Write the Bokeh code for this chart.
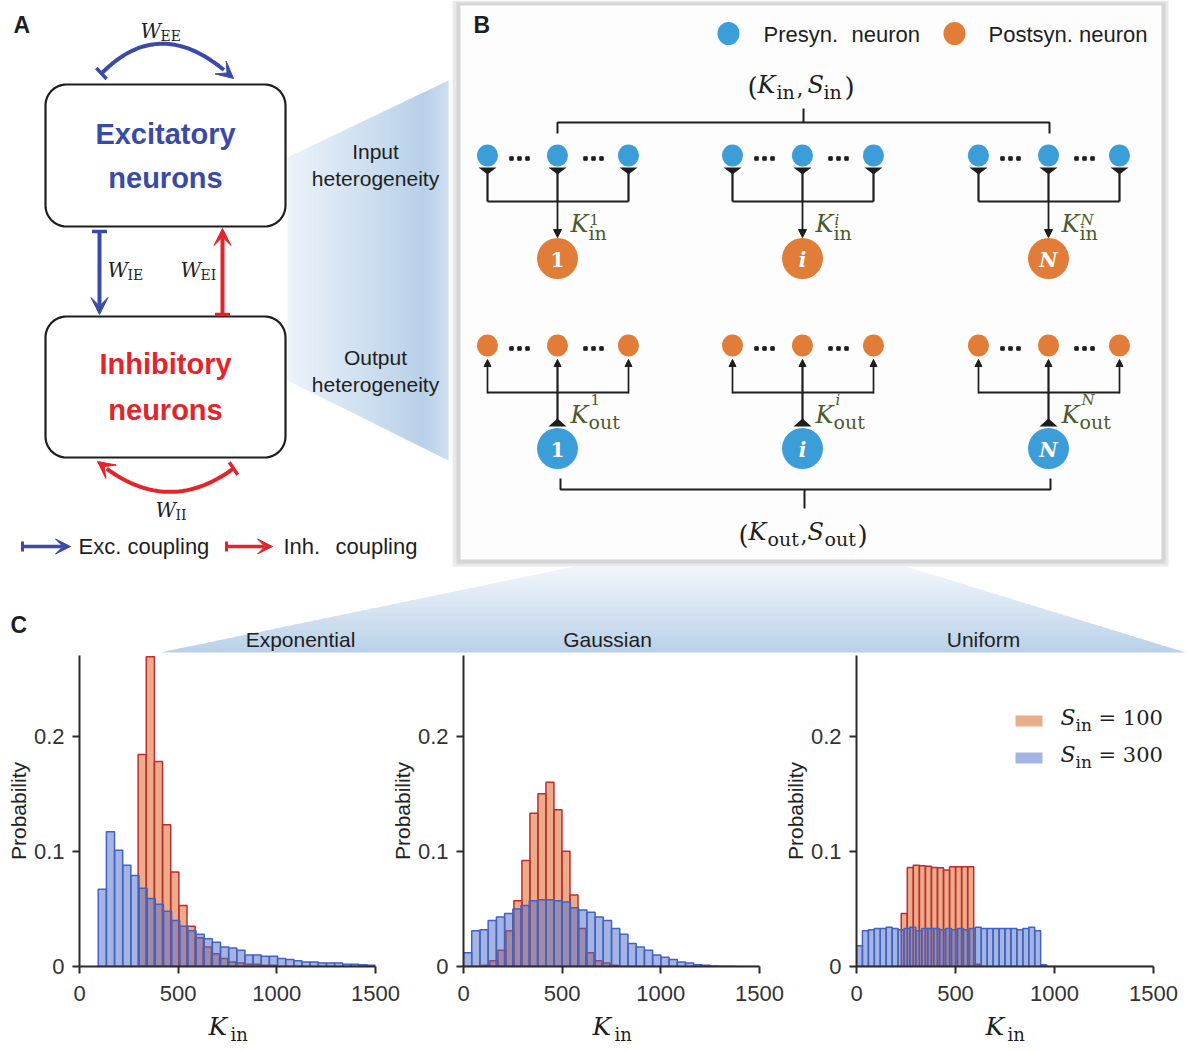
import numpy as np
from bokeh.plotting import figure
from bokeh.layouts import column, row
from bokeh.models import (Range1d, FixedTicker, NumeralTickFormatter,
                          Arrow, VeeHead, TeeHead, NormalHead)
from bokeh.core.properties import value
from bokeh.embed import file_html
from bokeh.resources import INLINE

# ------------------------------------------------------------------ data
k_ticks = [0, 500, 1000, 1500]
prob_ticks = [0, 0.1, 0.2]
dist_names = ["Exponential", "Gaussian", "Uniform"]
s_in_levels = ["100", "300"]

# Exponential in-degree distribution: first bin edge, bin width, probability per bin
exp_s100_edge0, exp_s100_bin = 297, 41.3
exp_s100 = [0.184, 0.269, 0.178, 0.123, 0.082, 0.053, 0.035, 0.025, 0.017,
            0.011, 0.007, 0.004, 0.003, 0.002, 0.002, 0.001, 0.001]
exp_s300_edge0, exp_s300_bin = 95, 41.3
exp_s300 = [0.067, 0.117, 0.101, 0.088, 0.079, 0.068, 0.059, 0.054, 0.048,
            0.040, 0.035, 0.031, 0.028, 0.024, 0.021, 0.017, 0.016, 0.014,
            0.010, 0.010, 0.009, 0.009, 0.007, 0.006, 0.005, 0.004, 0.004,
            0.003, 0.003, 0.003, 0.002, 0.002, 0.0015, 0.001]

# Gaussian in-degree distribution
gau_s100_edge0, gau_s100_bin = 93, 40.6
gau_s100 = [0.001, 0.005, 0.014, 0.031, 0.057, 0.092, 0.133, 0.150, 0.160,
            0.136, 0.100, 0.062, 0.033, 0.012, 0.005, 0.003, 0.001]
gau_s300_edge0, gau_s300_bin = 0, 41.67
gau_s300 = [0.012, 0.031, 0.032, 0.040, 0.043, 0.046, 0.050, 0.053, 0.057,
            0.058, 0.058, 0.057, 0.056, 0.051, 0.049, 0.047, 0.043, 0.040,
            0.033, 0.028, 0.020, 0.017, 0.014, 0.010, 0.008, 0.006, 0.004,
            0.003, 0.0015, 0.001, 0.0005, 0.0003, 0.0002, 0.0001, 0.0, 0.0]

# Uniform in-degree distribution
uni_s100_edge0, uni_s100_bin = 226, 30.5
uni_s100 = [0.046, 0.086, 0.088, 0.0875, 0.087, 0.086, 0.0858, 0.0837,
            0.0866, 0.0866, 0.0866, 0.0866, 0.002]
uni_s300_edge0, uni_s300_bin = 0, 30
uni_s300 = [0.018, 0.031, 0.032, 0.033, 0.033, 0.034, 0.033, 0.032, 0.033,
            0.034, 0.031, 0.033, 0.033, 0.033, 0.032, 0.033, 0.032, 0.033,
            0.032, 0.033, 0.034, 0.033, 0.033, 0.033, 0.033, 0.033, 0.033,
            0.032, 0.033, 0.034, 0.031, 0.0015, 0.0, 0.0, 0.0, 0.0, 0.0,
            0.0, 0.0, 0.0, 0.0, 0.0, 0.0, 0.0, 0.0, 0.0, 0.0, 0.0, 0.0, 0.0]

group_names = ["1", "i", "N"]

# ------------------------------------------------------------------ styles
SANS = "Liberation Sans"
MATH = "DejaVu Serif"
INK = "#1e1e1e"
EXC = "#3a4aa8"
INH = "#e3242b"
PRE = "#3b9ed8"
POST = "#e27c39"
KCOL = "#4e5a2b"
RED_FILL, RED_LINE = "#d8692a", "#c22a30"
BLUE_FILL, BLUE_LINE = "#4a6bc9", "#4262c2"

# ------------------------------------------------------------------ full-page canvas (schematics + free text)
W, H = 1193, 1050
top = figure(width=W, height=H, x_range=Range1d(0, W), y_range=Range1d(H, 0),
             x_axis_type=None, y_axis_type=None, output_backend="svg",
             toolbar_location=None, min_border=0)
top.outline_line_color = None
top.background_fill_color = "white"
top.border_fill_color = "white"


def put(x, y, s, size, font=SANS, style="normal", color=INK, align="left",
        baseline="alphabetic"):
    # y is the wanted baseline (or centre for "middle"); alphabetic text is
    # lifted so its baseline lands on y
    yy = y - 0.37 * size if baseline == "alphabetic" else y
    top.text(x=[x], y=[yy], text=[s], text_font=value(font),
             text_font_size=f"{size}px", text_font_style=style,
             text_color=color, text_align=align, text_baseline=baseline)


def mix(c0, c1, t):
    t = min(max(t, 0.0), 1.0)
    return "#%02x%02x%02x" % tuple(int(round(a + (b - a) * t)) for a, b in zip(c0, c1))


def rounded_box(x0, y0, x1, y1, r, n=14):
    xs, ys = [], []
    for cx, cy, a0, a1 in ((x1 - r, y0 + r, -90, 0), (x1 - r, y1 - r, 0, 90),
                           (x0 + r, y1 - r, 90, 180), (x0 + r, y0 + r, 180, 270)):
        for a in np.radians(np.linspace(a0, a1, n)):
            xs.append(cx + r * np.cos(a))
            ys.append(cy + r * np.sin(a))
    return xs, ys


# fan from panel A into panel B (horizontal gradient)
fx0, fx1 = 287, 448
xs, ys, cs = [], [], []
for xa in np.arange(fx0, fx1, 2.0):
    xb = min(xa + 2.6, fx1)
    ta, tb = (xa - fx0) / (fx1 - fx0), (xb - fx0) / (fx1 - fx0)
    xs.append([xa, xb, xb, xa])
    ys.append([157 - 77 * ta, 157 - 77 * tb, 380 + 80 * tb, 380 + 80 * ta])
    tm = 0.5 * (ta + tb)
    if tm < 0.85:
        cs.append(mix((236, 243, 250), (184, 208, 232), tm / 0.85))
    else:
        cs.append(mix((184, 208, 232), (206, 223, 240), (tm - 0.85) / 0.15))
top.patches(xs, ys, fill_color=cs, line_color=None)

# fan from panel B down to panel C (vertical gradient)
by0, by1 = 566, 652
xs, ys, cs = [], [], []
for ya in np.arange(by0, by1, 2.0):
    yb = min(ya + 2.6, by1)
    ta, tb = (ya - by0) / (by1 - by0), (yb - by0) / (by1 - by0)
    xs.append([575 - 415 * ta, 905 + 280 * ta, 905 + 280 * tb, 575 - 415 * tb])
    ys.append([ya, ya, yb, yb])
    cs.append(mix((242, 246, 251), (186, 209, 233), 0.5 * (ta + tb)))
top.patches(xs, ys, fill_color=cs, line_color=None)

# ---------------- panel A
put(13, 33, "A", 23, style="bold")
for y0, y1 in ((84, 226), (316, 457)):
    bx, byy = rounded_box(45, y0, 285, y1, 21)
    top.patch(bx, byy, fill_color="white", line_color=INK, line_width=2.2)
put(165, 144, "Excitatory", 29, style="bold", color=EXC, align="center")
put(165, 188, "neurons", 29, style="bold", color=EXC, align="center")
put(165, 374, "Inhibitory", 29, style="bold", color=INH, align="center")
put(165, 420, "neurons", 29, style="bold", color=INH, align="center")


def coupling_arc(p0, c, p2, color):
    t = np.linspace(0, 1, 60)
    bx = (1 - t) ** 2 * p0[0] + 2 * (1 - t) * t * c[0] + t ** 2 * p2[0]
    byy = (1 - t) ** 2 * p0[1] + 2 * (1 - t) * t * c[1] + t ** 2 * p2[1]
    top.line(bx[:-4], byy[:-4], line_color=color, line_width=4)
    top.add_layout(Arrow(start=None,
                         end=VeeHead(size=17, fill_color=color, line_color=color, line_width=1),
                         x_start=bx[-7], y_start=byy[-7], x_end=bx[-1], y_end=byy[-1],
                         line_color=color, line_width=4, line_alpha=0))
    top.add_layout(Arrow(start=TeeHead(size=15, line_color=color, line_width=3.5), end=None,
                         x_start=bx[0], y_start=byy[0], x_end=bx[4], y_end=byy[4],
                         line_color=color, line_width=4, line_alpha=0))


coupling_arc((101, 73), (162, 11), (233, 78), EXC)
coupling_arc((233, 468), (165, 518), (97, 461), INH)

top.add_layout(Arrow(start=TeeHead(size=15, line_color=EXC, line_width=3.5),
                     end=VeeHead(size=17, fill_color=EXC, line_color=EXC, line_width=1),
                     x_start=99, y_start=231, x_end=99, y_end=314,
                     line_color=EXC, line_width=4))
top.add_layout(Arrow(start=TeeHead(size=15, line_color=INH, line_width=3.5),
                     end=VeeHead(size=17, fill_color=INH, line_color=INH, line_width=1),
                     x_start=222, y_start=314, x_end=222, y_end=228,
                     line_color=INH, line_width=4))

# coupling weights
put(140, 38, "W", 20, MATH, "italic")
put(160, 41, "EE", 14, MATH)
put(107, 277, "W", 20, MATH, "italic")
put(127, 280, "IE", 14, MATH)
put(180, 277, "W", 20, MATH, "italic")
put(200, 280, "EI", 14, MATH)
put(155, 517, "W", 20, MATH, "italic")
put(175, 520, "II", 14, MATH)

# coupling legend
top.add_layout(Arrow(start=TeeHead(size=10, line_color=EXC, line_width=3),
                     end=VeeHead(size=15, fill_color=EXC, line_color=EXC, line_width=1),
                     x_start=22, y_start=546, x_end=70, y_end=546, line_color=EXC, line_width=3.5))
put(78, 546, "Exc. coupling", 22, baseline="middle")
top.add_layout(Arrow(start=TeeHead(size=10, line_color=INH, line_width=3),
                     end=VeeHead(size=15, fill_color=INH, line_color=INH, line_width=1),
                     x_start=226, y_start=546, x_end=272, y_end=546, line_color=INH, line_width=3.5))
put(283, 546, "Inh.", 22, baseline="middle")
put(335, 546, "coupling", 22, baseline="middle")

put(375, 151, "Input", 21, align="center", baseline="middle")
put(375, 178, "heterogeneity", 21, align="center", baseline="middle")
put(375, 357, "Output", 21, align="center", baseline="middle")
put(375, 384, "heterogeneity", 21, align="center", baseline="middle")

# ---------------- panel B
top.quad(left=452, right=1168, top=0, bottom=566, fill_color="#e9e9e9", line_color=None)
top.quad(left=456, right=1165, top=2, bottom=563, fill_color="#d5d5d5", line_color=None)
top.quad(left=460, right=1161, top=5, bottom=559, fill_color="#fdfdfd", line_color=None)
put(473, 33, "B", 23, style="bold")

top.ellipse(x=[728], y=[33], width=22, height=23, fill_color=PRE, line_color=None)
put(763, 34, "Presyn.", 22, baseline="middle")
put(851, 34, "neuron", 22, baseline="middle")
top.ellipse(x=[954], y=[33], width=22, height=23, fill_color=POST, line_color=None)
put(988, 34, "Postsyn. neuron", 22, baseline="middle")

# (K_in, S_in) bracket
put(747, 96, "(", 26, MATH)
put(757, 93, "K", 24, MATH, "italic")
put(776, 99, "in", 19, MATH)
put(796, 96, ",", 22, MATH)
put(807, 93, "S", 24, MATH, "italic")
put(823, 99, "in", 19, MATH)
put(844, 96, ")", 26, MATH)
top.line([557, 557, 1049, 1049], [133, 122, 122, 133], line_color=INK, line_width=2)
top.line([803, 803], [122, 108], line_color=INK, line_width=2)

# (K_out, S_out) bracket
top.line([560, 560, 1050, 1050], [478, 489, 489, 478], line_color=INK, line_width=2)
top.line([804, 804], [489, 508], line_color=INK, line_width=2)
put(738, 544, "(", 26, MATH)
put(748, 540, "K", 24, MATH, "italic")
put(767, 546, "out", 19, MATH)
put(800, 543, ",", 22, MATH)
put(807, 540, "S", 24, MATH, "italic")
put(824, 546, "out", 19, MATH)
put(857, 544, ")", 26, MATH)

for c, name in zip([557, 802, 1048], group_names):
    cols = [c - 70, c, c + 71]
    sup_style = "normal" if name == "1" else "italic"
    num_style = "bold" if name == "1" else "bold italic"

    # ---- input side: presynaptic neurons converge on neuron c
    top.ellipse(x=cols, y=[155] * 3, width=21, height=22, fill_color=PRE, line_color=None)
    for off in (-38, 36):
        top.scatter(x=[c + off - 8, c + off, c + off + 8], y=[158] * 3, size=3.5,
                    marker="square", color=INK)
    top.patches([[x - 9, x + 9, x] for x in cols], [[167, 167, 174]] * 3,
                fill_color=INK, line_color=None)
    top.multi_line([[cols[0], cols[0]], [cols[2], cols[2]], [c, c], [cols[0], cols[2]]],
                   [[171, 201], [171, 201], [171, 201], [201, 201]],
                   line_color=INK, line_width=2.2)
    top.add_layout(Arrow(start=None, end=NormalHead(size=8, fill_color=INK, line_color=INK),
                         x_start=c, y_start=200, x_end=c, y_end=237,
                         line_color=INK, line_width=1.8))
    top.ellipse(x=[c], y=[258], width=41, height=41, fill_color=POST, line_color=None)
    put(c, 259, name, 20, MATH, num_style, "white", "center", "middle")
    put(c + 13, 232, "K", 24, MATH, "italic", KCOL)
    put(c + 31, 240, "in", 19, MATH, "normal", KCOL)
    put(c + 32, 225, name, 15, MATH, sup_style, KCOL)

    # ---- output side: neuron c diverges to postsynaptic neurons
    top.ellipse(x=cols, y=[345] * 3, width=21, height=22, fill_color=POST, line_color=None)
    for off in (-38, 36):
        top.scatter(x=[c + off - 8, c + off, c + off + 8], y=[348] * 3, size=3.5,
                    marker="square", color=INK)
    top.multi_line([[cols[0], cols[2]], [c, c]], [[392, 392], [424, 392]],
                   line_color=INK, line_width=2.2)
    for x in cols:
        top.add_layout(Arrow(start=None, end=NormalHead(size=7, fill_color=INK, line_color=INK),
                             x_start=x, y_start=393, x_end=x, y_end=359,
                             line_color=INK, line_width=1.7 if x != c else 2.2))
    top.patch([c - 9, c + 9, c], [426, 426, 418], fill_color=INK, line_color=None)
    top.ellipse(x=[c], y=[448], width=41, height=41, fill_color=PRE, line_color=None)
    put(c, 449, name, 20, MATH, num_style, "white", "center", "middle")
    put(c + 13, 423, "K", 24, MATH, "italic", KCOL)
    put(c + 31, 429, "out", 19, MATH, "normal", KCOL)
    put(c + 33, 405, name, 15, MATH, sup_style, KCOL)

# ---------------- panel C: header, axis variable, legend text
put(10, 633, "C", 23, style="bold")
frame_lefts = [79, 463, 856]
for cx, name in zip([300, 607, 983], dist_names):
    put(cx, 647, name, 21, align="center")
for fl in frame_lefts:
    put(fl + 129, 1035, "K", 25, MATH, "italic")
    put(fl + 151, 1041, "in", 18, MATH)
for level, base in zip(s_in_levels, (725, 762)):
    put(1060, base, "S", 22, MATH, "italic")
    put(1075, base + 6, "in", 17, MATH)
    put(1098, base, "= " + level, 21, MATH)

# ------------------------------------------------------------------ histograms
FH = 311
YMAX = 0.27


def hist_panel(red, blue, left, frame_w, right, shift):
    p = figure(frame_width=frame_w, frame_height=FH,
               x_range=Range1d(0, 1500), y_range=Range1d(0, YMAX),
               min_border_left=left, min_border_right=right,
               min_border_top=0, min_border_bottom=84,
               output_backend="svg", toolbar_location=None,
               margin=(0, 0, 0, shift))
    p.border_fill_color = None
    p.background_fill_color = None
    p.outline_line_color = None
    p.grid.visible = False
    for (e0, bw, vals), fill, line, alpha in ((red, RED_FILL, RED_LINE, 0.55),
                                              (blue, BLUE_FILL, BLUE_LINE, 0.5)):
        lefts = e0 + bw * np.arange(len(vals))
        p.quad(left=lefts, right=lefts + bw, bottom=0, top=vals,
               fill_color=fill, fill_alpha=alpha, line_color=line, line_width=1.5)

    p.xaxis.ticker = FixedTicker(ticks=k_ticks)
    p.yaxis.ticker = FixedTicker(ticks=prob_ticks)
    p.yaxis.formatter = NumeralTickFormatter(format="0.[0]")
    p.axis.axis_line_width = 2
    p.axis.axis_line_color = "#2b2b2b"
    p.axis.major_tick_line_width = 2
    p.axis.major_tick_line_color = "#2b2b2b"
    p.axis.major_tick_in = 0
    p.axis.major_tick_out = 7
    p.axis.minor_tick_line_color = None
    p.axis.major_label_text_font = SANS
    p.axis.major_label_text_font_size = "22px"
    p.axis.major_label_text_color = "#333333"
    p.xaxis.major_label_standoff = 12
    p.yaxis.major_label_standoff = 8
    p.yaxis.axis_label = "Probability"
    p.yaxis.axis_label_text_font = SANS
    p.yaxis.axis_label_text_font_size = "21px"
    p.yaxis.axis_label_text_font_style = "normal"
    p.yaxis.axis_label_text_color = "#222222"
    p.yaxis.axis_label_standoff = 1
    return p


h1 = hist_panel((exp_s100_edge0, exp_s100_bin, exp_s100),
                (exp_s300_edge0, exp_s300_bin, exp_s300), 79, 296, 30, 0)
h2 = hist_panel((gau_s100_edge0, gau_s100_bin, gau_s100),
                (gau_s300_edge0, gau_s300_bin, gau_s300), 78, 296, 36, -20)
h3 = hist_panel((uni_s100_edge0, uni_s100_bin, uni_s100),
                (uni_s300_edge0, uni_s300_bin, uni_s300), 81, 297, 40, -20)


# legend swatches of the uniform panel, placed in frame pixels
def px_x(px):
    return px * 1500 / 297


def px_y(py):
    return py * YMAX / FH


for fill, alpha, base in ((RED_FILL, 0.55, 241), (BLUE_FILL, 0.5, 204)):
    h3.quad(left=px_x(159), right=px_x(186), bottom=px_y(base - 1), top=px_y(base + 10),
            fill_color=fill, fill_alpha=alpha, line_color=None)

hist_row = row(h1, h2, h3, spacing=0, margin=(-395, 0, 0, 0))
layout = column(top, hist_row, spacing=0)

with open("out.html", "w") as f:
    f.write(file_html(layout, INLINE, title="Degree heterogeneity"))
